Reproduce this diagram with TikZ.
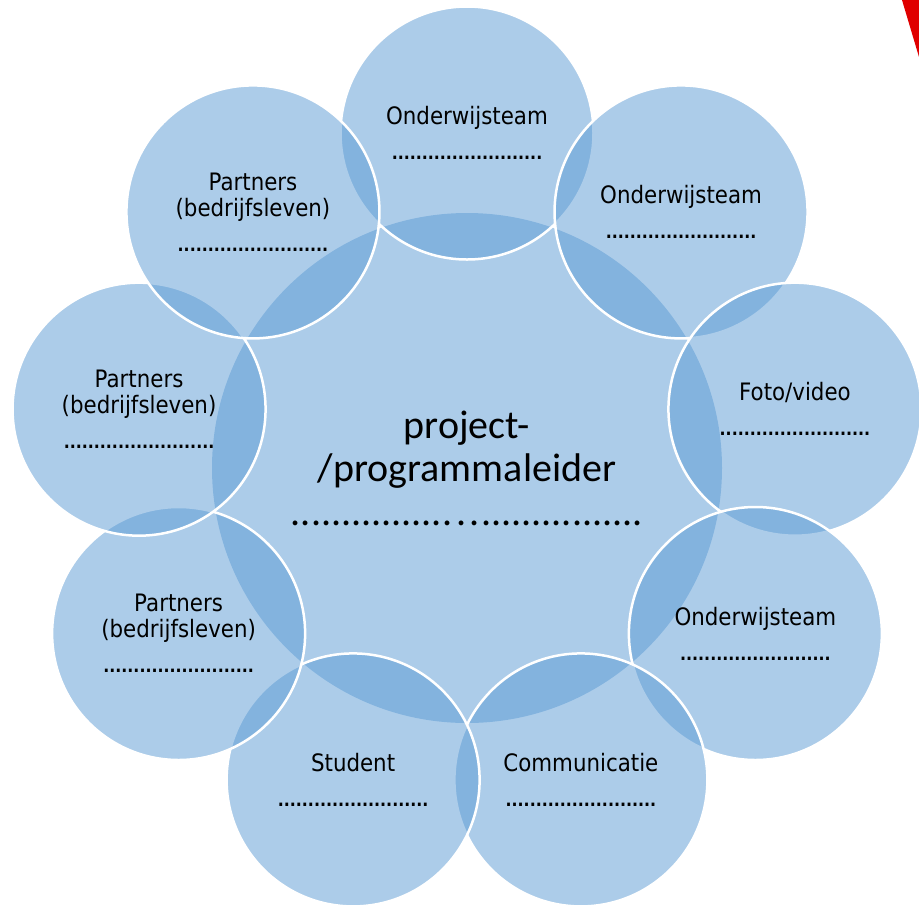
\documentclass[tikz,border=0pt]{standalone}
\usepackage{fontspec}
\newfontfamily\lblfont[FakeStretch=0.89]{DejaVu Sans}
\newfontfamily\ctrfont{Carlito}
\definecolor{accblue}{RGB}{91,155,213}
\definecolor{cornerred}{RGB}{224,0,0}
\newcommand\dotline{{\bfseries\fontsize{17.8}{26}\selectfont .........................}}
\begin{document}
\begin{tikzpicture}[x=1pt,y=1pt,
  hub/.style={circle, minimum size=510pt, inner sep=0pt, fill=accblue,
    fill opacity=0.5, text opacity=1, align=center,
    font=\ctrfont\fontsize{40}{43.5}\selectfont},
  petal/.style={circle, minimum size=253pt, inner sep=0pt, fill=accblue,
    fill opacity=0.5, draw=white, draw opacity=1, line width=2.5pt,
    text opacity=1, align=center,
    font=\lblfont\fontsize{24}{26}\selectfont}]
\useasboundingbox[fill=white] (0,0) rectangle (919,-906);
\fill[cornerred] (902,0) -- (919,0) -- (919,-57) -- cycle;
\node[hub] (leader) at (467,-468)
  {project-\\/programmaleider\\................\kern4pt.\kern3pt.\kern2pt................};
\begin{scope}[shift={(467,-467)}]
  \node[petal] (p1) at (90:334)  {Onderwijsteam\\[9pt]\dotline};
  \node[petal] (p2) at (50:333)  {Onderwijsteam\\[9pt]\dotline};
  \node[petal] (p3) at (10:333)  {Foto/video\\[9pt]\dotline};
  \node[petal] (p4) at (-30:333) {Onderwijsteam\\[9pt]\dotline};
  \node[petal] (p5) at (-70:333) {Communicatie\\[9pt]\dotline};
  \node[petal] (p6) at (-110:333) {Student\\[9pt]\dotline};
  \node[petal] (p7) at (-150:333) {Partners\\(bedrijfsleven)\\[9pt]\dotline};
  \node[petal] (p8) at (170:333) {Partners\\(bedrijfsleven)\\[9pt]\dotline};
  \node[petal] (p9) at (130:333) {Partners\\(bedrijfsleven)\\[9pt]\dotline};
\end{scope}
\end{tikzpicture}
\end{document}
